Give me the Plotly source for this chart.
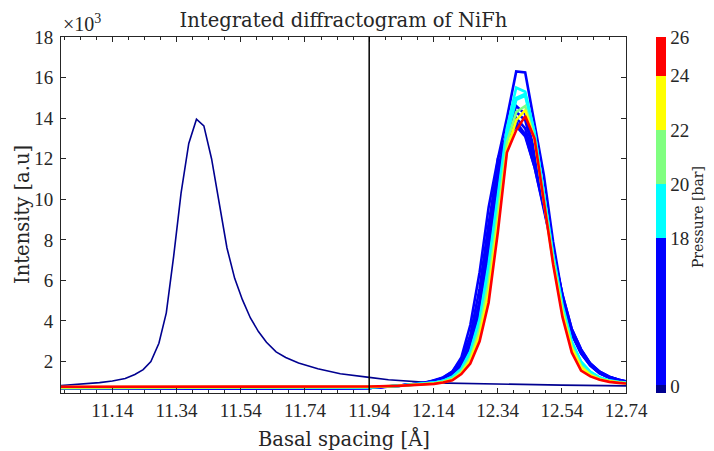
import plotly.graph_objects as go

# ---------------- data (intensities in units of 10^3 counts) ----------------
# dry sample (0 bar) - dark navy curve
x_dry = [10.98, 11.02, 11.06, 11.10, 11.14, 11.18, 11.21, 11.236, 11.26, 11.285,
         11.308, 11.331, 11.354, 11.378, 11.402, 11.425, 11.449, 11.473, 11.497,
         11.521, 11.545, 11.57, 11.595, 11.62, 11.65, 11.68, 11.72, 11.78, 11.85,
         11.94, 12.0, 12.14, 12.34, 12.54, 12.74]
y_dry = [0.82, 0.86, 0.90, 0.96, 1.04, 1.16, 1.36, 1.60, 2.0, 2.9,
         4.4, 7.2, 10.3, 12.75, 13.95, 13.62, 12.0, 9.7, 7.6,
         6.1, 5.05, 4.15, 3.48, 2.95, 2.48, 2.2, 1.93, 1.65, 1.40,
         1.22, 1.10, 0.95, 0.88, 0.84, 0.80]

# common spacing grid of the pressurised measurements
x_grid = [10.98, 11.50, 11.94, 12.03, 12.085, 12.114, 12.142, 12.170, 12.199, 12.227,
          12.255, 12.284, 12.312, 12.341, 12.369, 12.398, 12.426, 12.455, 12.484,
          12.513, 12.542, 12.571, 12.600, 12.629, 12.658, 12.688, 12.717, 12.746]

y_blue_e = [0.66, 0.66, 0.70, 0.80, 0.90, 0.96, 1.04, 1.20, 1.50, 2.20,
            3.80, 6.40, 9.60, 12.00, 13.20, 13.80, 13.20, 11.60, 9.50,
            7.40, 5.30, 3.60, 2.60, 1.90, 1.50, 1.25, 1.10, 1.00]
y_blue_a = [0.66, 0.66, 0.70, 0.80, 0.90, 0.95, 1.08, 1.22, 1.50, 2.10,
            3.30, 5.60, 8.80, 11.60, 13.00, 13.60, 13.10, 11.60, 9.60,
            7.50, 5.30, 3.60, 2.60, 1.90, 1.50, 1.25, 1.10, 1.00]
y_blue_b = [0.66, 0.66, 0.70, 0.80, 0.89, 0.94, 1.05, 1.18, 1.42, 1.95,
            3.00, 5.00, 8.10, 11.20, 13.10, 14.00, 13.50, 11.90, 9.70,
            7.40, 5.20, 3.50, 2.50, 1.85, 1.45, 1.22, 1.08, 0.98]
y_blue_c = [0.66, 0.66, 0.70, 0.79, 0.88, 0.93, 1.02, 1.13, 1.35, 1.80,
            2.75, 4.60, 7.60, 10.90, 13.20, 14.30, 13.90, 12.20, 9.80,
            7.30, 5.00, 3.35, 2.40, 1.80, 1.42, 1.20, 1.06, 0.97]
y_blue_d = [0.66, 0.66, 0.70, 0.79, 0.88, 0.93, 1.02, 1.13, 1.33, 1.75,
            2.70, 4.50, 7.50, 10.90, 13.40, 14.60, 14.20, 12.40, 9.90,
            7.30, 5.00, 3.35, 2.40, 1.80, 1.42, 1.20, 1.06, 0.97]
y_blue_hi = [0.66, 0.66, 0.70, 0.80, 0.89, 0.94, 1.04, 1.15, 1.40, 1.90,
             2.90, 4.90, 8.20, 12.00, 14.00, 16.30, 16.25, 13.80, 11.20,
             7.90, 5.20, 3.45, 2.45, 1.82, 1.45, 1.22, 1.08, 0.98]
y_cyan_a = [0.72, 0.72, 0.73, 0.80, 0.87, 0.91, 0.96, 1.05, 1.25, 1.65,
            2.50, 4.10, 6.80, 10.20, 13.50, 15.50, 15.30, 13.30, 10.30,
            7.30, 4.80, 3.00, 2.00, 1.50, 1.22, 1.07, 1.00, 0.95]
y_cyan_b = [0.72, 0.72, 0.73, 0.80, 0.87, 0.91, 0.96, 1.05, 1.24, 1.62,
            2.45, 4.00, 6.60, 10.00, 13.30, 15.00, 15.20, 13.30, 10.30,
            7.20, 4.70, 2.95, 1.98, 1.48, 1.21, 1.06, 0.99, 0.94]
y_cyan_c = [0.72, 0.72, 0.73, 0.80, 0.87, 0.91, 0.95, 1.04, 1.22, 1.60,
            2.40, 3.90, 6.40, 9.80, 13.10, 14.90, 15.10, 13.20, 10.20,
            7.10, 4.65, 2.90, 1.95, 1.46, 1.20, 1.05, 0.98, 0.94]
y_green = [0.69, 0.70, 0.74, 0.80, 0.86, 0.89, 0.93, 1.00, 1.15, 1.50,
           2.20, 3.60, 5.90, 9.30, 12.80, 14.30, 14.60, 13.00, 10.00,
           7.00, 4.50, 2.75, 1.80, 1.38, 1.15, 1.03, 0.97, 0.93]
y_yellow = [0.74, 0.74, 0.76, 0.81, 0.86, 0.89, 0.92, 0.98, 1.10, 1.42,
            2.05, 3.30, 5.40, 8.80, 12.40, 13.90, 14.40, 12.95, 9.90,
            6.90, 4.40, 2.65, 1.72, 1.33, 1.12, 1.02, 0.96, 0.92]
y_red = [0.76, 0.76, 0.77, 0.80, 0.84, 0.87, 0.90, 0.97, 1.08, 1.38,
         1.90, 3.00, 4.90, 8.40, 12.30, 13.40, 14.10, 13.00, 9.90,
         6.80, 4.20, 2.45, 1.55, 1.27, 1.10, 1.00, 0.95, 0.91]

pressure_series = [
    ("#0000FF", y_blue_e), ("#0000FF", y_blue_a), ("#0000FF", y_blue_b),
    ("#0000FF", y_blue_c), ("#0000FF", y_blue_d), ("#0000FF", y_blue_hi),
    ("#00FFFF", y_cyan_a), ("#00FFFF", y_cyan_b), ("#00FFFF", y_cyan_c),
    ("#80FF80", y_green), ("#FFFF00", y_yellow), ("#FF0000", y_red),
]

ref_spacing = 11.94

# colour map: (colour, number of measurements in that colour band)
cmap_colors = ["#000090", "#0000FF", "#00FFFF", "#80FF80", "#FFFF00", "#FF0000"]
cmap_counts = [1, 19, 7, 7, 7, 5]
cbar_tick_index = [0.8, 20, 27, 34, 41, 46]
cbar_tick_labels = ["0", "18", "20", "22", "24", "26"]

x_tick_vals = [11.14, 11.34, 11.54, 11.74, 11.94, 12.14, 12.34, 12.54, 12.74]
y_tick_vals = [2, 4, 6, 8, 10, 12, 14, 16, 18]

NUM_FONT = "Liberation Serif"
TXT_FONT = "DejaVu Serif"
AX = "#262626"

fig = go.Figure()

fig.add_trace(go.Scatter(x=x_dry, y=y_dry, mode="lines",
                         line=dict(color="#000090", width=1.6), showlegend=False))
for col, ys in pressure_series:
    fig.add_trace(go.Scatter(x=x_grid, y=ys, mode="lines",
                             line=dict(color=col, width=2.6), showlegend=False))

# discrete colour scale for the colour bar
total = sum(cmap_counts)
cscale = []
acc = 0
for c, n in zip(cmap_colors, cmap_counts):
    cscale.append([acc / total, c])
    acc += n
    cscale.append([acc / total, c])

fig.add_trace(go.Scatter(
    x=[None], y=[None], mode="markers", showlegend=False,
    marker=dict(color=[0], cmin=0, cmax=total, colorscale=cscale, showscale=True,
                colorbar=dict(x=1.0535, xanchor="left", xref="paper", y=0.5, yanchor="middle",
                              len=1, lenmode="fraction", thickness=10, outlinewidth=0,
                              xpad=0, ypad=0,
                              tickvals=cbar_tick_index, ticktext=cbar_tick_labels,
                              ticks="", ticklen=0, ticklabelposition="outside",
                              tickfont=dict(family=NUM_FONT, size=19, color="#262626"))),
))

fig.add_shape(type="line", xref="x", yref="paper", x0=ref_spacing, x1=ref_spacing,
              y0=0, y1=1, line=dict(color="black", width=1.5))

fig.update_xaxes(range=[10.98, 12.74], tickvals=x_tick_vals,
                 ticktext=[f"{v:.2f}" for v in x_tick_vals],
                 ticks="inside", ticklen=5, tickcolor=AX, tickwidth=1,
                 minor=dict(ticks="inside", dtick=0.05, tick0=11.14, ticklen=3,
                            tickcolor=AX, tickwidth=1, showgrid=False),
                 showline=True, linecolor=AX, linewidth=1, mirror="ticks",
                 showgrid=False, zeroline=False,
                 tickfont=dict(family=NUM_FONT, size=19, color="#262626"))
fig.update_yaxes(range=[0.45, 18], tickvals=y_tick_vals,
                 ticktext=[str(v) for v in y_tick_vals],
                 ticks="inside", ticklen=5, tickcolor=AX, tickwidth=1,
                 showline=True, linecolor=AX, linewidth=1, mirror="ticks",
                 showgrid=False, zeroline=False, ticklabelstandoff=3,
                 tickfont=dict(family=NUM_FONT, size=19, color="#262626"))

# the page adds an 8 px body margin, so the figure is 8 px smaller than the window
fig.update_layout(
    width=706, height=443,
    margin=dict(l=53, r=88, t=29, b=58, autoexpand=False),
    paper_bgcolor="white", plot_bgcolor="white",
    title=dict(text="Integrated diffractogram of NiFh", x=0.5, xref="paper",
               xanchor="center", y=1 - 12 / 443, yanchor="middle", yref="container",
               font=dict(family=TXT_FONT, size=19.5, color="#262626")),
    annotations=[
        dict(text="Basal spacing [Å]", xref="paper", yref="paper", x=0.5, y=0,
             xanchor="center", yanchor="middle", yshift=-45, showarrow=False,
             font=dict(family=TXT_FONT, size=19.5, color="#262626")),
        dict(text="Intensity [a.u]", xref="paper", yref="paper", x=0, y=0.5,
             xanchor="center", yanchor="middle", xshift=-39, textangle=-90,
             showarrow=False, font=dict(family=TXT_FONT, size=19.5, color="#262626")),
        dict(text="×10<sup>3</sup>", xref="paper", yref="paper", x=0, y=1,
             xanchor="left", yanchor="bottom", xshift=0, yshift=0, showarrow=False,
             font=dict(family=NUM_FONT, size=20, color="#262626")),
        dict(text="Pressure [bar]", xref="paper", yref="paper", x=1.1274, y=0.494,
             xanchor="center", yanchor="middle", textangle=-90, showarrow=False,
             font=dict(family=TXT_FONT, size=14, color="#262626")),
    ],
)

fig.write_html("out.html")
